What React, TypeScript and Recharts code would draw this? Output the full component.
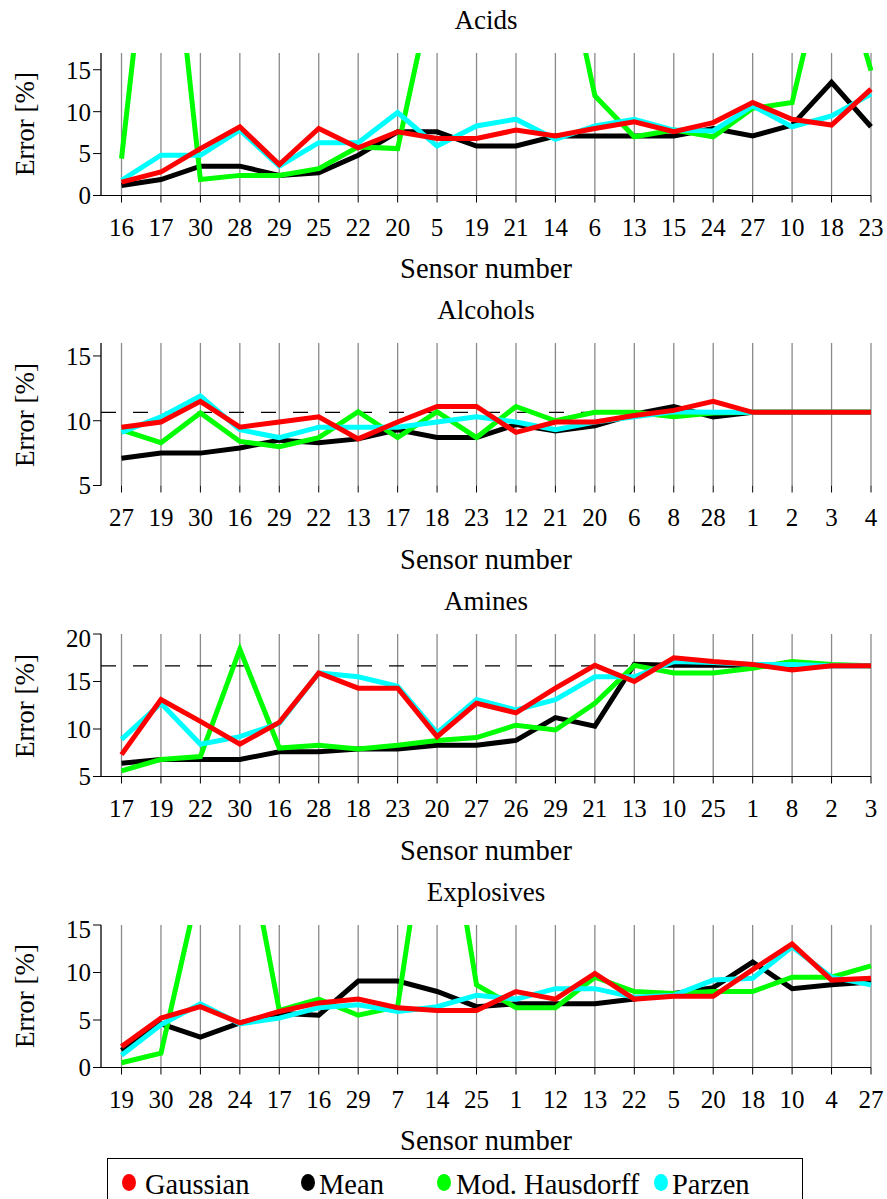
import React from 'react';
import { LineChart, Line, XAxis, YAxis, CartesianGrid, ReferenceLine } from 'recharts';

const FONT = "'Liberation Serif', 'DejaVu Serif', 'Noto Serif', serif";

// ---------- Acids ----------
const acidsSensors = ['16', '17', '30', '28', '29', '25', '22', '20', '5', '19', '21', '14', '6', '13', '15', '24', '27', '10', '18', '23'];
const acidsGaussian = [1.6, 2.8, 5.6, 8.2, 3.7, 8.0, 5.7, 7.6, 6.8, 6.8, 7.8, 7.1, 8.0, 8.8, 7.6, 8.7, 11.1, 9.1, 8.4, 12.7];
const acidsMean = [1.2, 1.9, 3.5, 3.5, 2.4, 2.7, 4.8, 7.6, 7.6, 5.9, 5.9, 7.1, 7.1, 7.1, 7.1, 8.0, 7.1, 8.4, 13.5, 8.2];
const acidsHausdorff = [4.4, 45.8, 1.9, 2.4, 2.4, 3.2, 5.8, 5.6, 27.3, 30, 32, 33.9, 11.9, 7.0, 7.8, 7.0, 10.4, 11.1, 31, 14.9];
const acidsParzen = [1.8, 4.8, 4.8, 7.8, 3.5, 6.3, 6.3, 9.9, 5.9, 8.3, 9.1, 6.7, 8.3, 9.1, 7.8, 7.7, 10.7, 8.2, 9.5, 12.1];

// ---------- Alcohols ----------
const alcoholsSensors = ['27', '19', '30', '16', '29', '22', '13', '17', '18', '23', '12', '21', '20', '6', '8', '28', '1', '2', '3', '4'];
const alcoholsGaussian = [9.5, 9.9, 11.5, 9.5, 9.9, 10.3, 8.6, 9.9, 11.1, 11.1, 9.1, 9.9, 9.9, 10.4, 10.8, 11.5, 10.65, 10.65, 10.65, 10.65];
const alcoholsMean = [7.1, 7.5, 7.5, 7.9, 8.5, 8.3, 8.6, 9.3, 8.7, 8.7, 9.7, 9.2, 9.6, 10.5, 11.1, 10.3, 10.65, 10.65, 10.65, 10.65];
const alcoholsHausdorff = [9.3, 8.3, 10.6, 8.4, 8.0, 8.7, 10.7, 8.7, 10.7, 8.7, 11.1, 10.0, 10.65, 10.65, 10.3, 10.6, 10.65, 10.65, 10.65, 10.65];
const alcoholsParzen = [9.1, 10.3, 11.9, 9.3, 8.7, 9.5, 9.5, 9.5, 9.9, 10.3, 9.9, 9.3, 9.9, 10.3, 10.7, 10.65, 10.65, 10.65, 10.65, 10.65];
const alcoholsBaseline = 10.65;

// ---------- Amines ----------
const aminesSensors = ['17', '19', '22', '30', '16', '28', '18', '23', '20', '27', '26', '29', '21', '13', '10', '25', '1', '8', '2', '3'];
const aminesGaussian = [7.3, 13.1, 10.8, 8.4, 10.7, 15.9, 14.3, 14.3, 9.2, 12.7, 11.7, 14.3, 16.7, 15.0, 17.5, 17.1, 16.8, 16.2, 16.65, 16.65];
const aminesMean = [6.4, 6.8, 6.8, 6.8, 7.6, 7.6, 7.9, 7.9, 8.3, 8.3, 8.8, 11.2, 10.3, 16.8, 16.7, 16.7, 16.7, 16.7, 16.65, 16.65];
const aminesHausdorff = [5.6, 6.8, 7.1, 18.4, 8.0, 8.3, 7.9, 8.3, 8.8, 9.1, 10.4, 9.9, 12.7, 16.7, 15.9, 15.9, 16.4, 17.1, 16.8, 16.65];
const aminesParzen = [8.9, 12.7, 8.4, 9.2, 10.6, 15.9, 15.5, 14.5, 9.6, 13.1, 12.0, 13.1, 15.5, 15.5, 17.1, 17.0, 16.8, 16.8, 16.65, 16.65];
const aminesBaseline = 16.65;

// ---------- Explosives ----------
const explosivesSensors = ['19', '30', '28', '24', '17', '16', '29', '7', '14', '25', '1', '12', '13', '22', '5', '20', '18', '10', '4', '27'];
const explosivesGaussian = [2.2, 5.2, 6.4, 4.7, 5.9, 6.8, 7.2, 6.3, 6.0, 6.0, 8.0, 7.2, 9.9, 7.2, 7.5, 7.5, 10.3, 13.0, 9.2, 9.4];
const explosivesMean = [1.8, 4.6, 3.2, 4.7, 5.7, 5.5, 9.1, 9.1, 8.0, 6.4, 6.7, 6.7, 6.7, 7.2, 7.8, 8.4, 11.1, 8.3, 8.7, 9.0];
const explosivesHausdorff = [0.5, 1.5, 19.8, 27.8, 6.0, 7.2, 5.5, 6.4, 34, 8.7, 6.3, 6.3, 9.5, 8.0, 7.8, 8.0, 8.0, 9.5, 9.5, 10.7];
const explosivesParzen = [1.3, 4.5, 6.7, 4.6, 5.2, 6.3, 6.6, 5.9, 6.4, 7.6, 7.2, 8.3, 8.3, 7.4, 7.6, 9.2, 9.4, 12.7, 9.5, 8.7];

const seriesNames = ['Gaussian', 'Mean', 'Mod. Hausdorff', 'Parzen'];
const seriesColors = ['#ff0000', '#000000', '#00ff00', '#00ffff'];

function buildRows(s: string[], g: number[], m: number[], h: number[], p: number[]) {
  return s.map((sensor, i) => ({ sensor, gaussian: g[i], mean: m[i], hausdorff: h[i], parzen: p[i] }));
}

type PanelProps = {
  title: string;
  rows: any[];
  plotTop: number;
  plotH: number;
  domain: [number, number];
  ticks: number[];
  baseline?: number;
  showXLine?: boolean;
};

const PLOT_LEFT = 101;
const PLOT_RIGHT = 871;
const CENTER_X = (PLOT_LEFT + PLOT_RIGHT) / 2;

function Panel({ title, rows, plotTop, plotH, domain, ticks, baseline, showXLine = true }: PanelProps) {
  const mTop = 10;
  const xAxisH = 70;
  const plotBottom = plotTop + plotH;
  const textStyle: React.CSSProperties = {
    position: 'absolute',
    fontFamily: FONT,
    fontSize: 27,
    lineHeight: 1,
    whiteSpace: 'nowrap',
    color: '#000',
  };
  return (
    <>
      <div style={{ ...textStyle, left: CENTER_X, top: plotTop - 33, transform: 'translate(-50%, -50%)' }}>{title}</div>
      <div style={{ ...textStyle, fontSize: 28.5, left: CENTER_X, top: plotBottom + 74, transform: 'translate(-50%, -50%)' }}>Sensor number</div>
      <div
        style={{
          ...textStyle,
          left: 25,
          top: plotTop + plotH / 2,
          transform: 'translate(-50%, -50%) rotate(-90deg)',
        }}
      >
        Error [%]
      </div>
      <div style={{ position: 'absolute', left: 0, top: plotTop - mTop }}>
        <LineChart
          width={887}
          height={mTop + plotH + xAxisH}
          data={rows}
          margin={{ top: mTop, right: 887 - PLOT_RIGHT, bottom: 0, left: PLOT_LEFT - 60 }}
        >
          <CartesianGrid horizontal={false} vertical={true} stroke="#8a8a8a" strokeWidth={1.3} />
          <XAxis
            dataKey="sensor"
            type="category"
            interval={0}
            padding={{ left: 20.5, right: 0 }}
            height={xAxisH}
            tickSize={7}
            tickMargin={16}
            axisLine={showXLine ? { stroke: '#000', strokeWidth: 1 } : false}
            tickLine={{ stroke: '#000', strokeWidth: 1 }}
            tick={{ fill: '#000', fontSize: 25, fontFamily: FONT }}
          />
          <YAxis
            type="number"
            domain={domain}
            ticks={ticks}
            allowDataOverflow={true}
            width={60}
            tickSize={8}
            tickMargin={2}
            axisLine={{ stroke: '#000', strokeWidth: 1 }}
            tickLine={{ stroke: '#000', strokeWidth: 1 }}
            tick={{ fill: '#000', fontSize: 25, fontFamily: FONT }}
          />
          {baseline !== undefined && (
            <ReferenceLine y={baseline} stroke="#000" strokeWidth={1.2} strokeDasharray="15 17" />
          )}
          <Line dataKey="mean" stroke={seriesColors[1]} strokeWidth={5} dot={false} activeDot={false} isAnimationActive={false} />
          <Line dataKey="hausdorff" stroke={seriesColors[2]} strokeWidth={5} dot={false} activeDot={false} isAnimationActive={false} />
          <Line dataKey="parzen" stroke={seriesColors[3]} strokeWidth={5} dot={false} activeDot={false} isAnimationActive={false} />
          <Line dataKey="gaussian" stroke={seriesColors[0]} strokeWidth={5} dot={false} activeDot={false} isAnimationActive={false} />
        </LineChart>
      </div>
    </>
  );
}

function LegendBox() {
  const dotX = [128, 307, 443, 660];
  const textX = [144, 318, 455, 671];
  return (
    <div
      style={{
        position: 'absolute',
        left: 107,
        top: 1158,
        width: 696,
        height: 50,
        border: '1.5px solid #000',
        boxSizing: 'border-box',
      }}
    >
      {seriesNames.map((name, i) => (
        <React.Fragment key={name}>
          <div
            style={{
              position: 'absolute',
              left: dotX[i] - 107 - 7,
              top: 1181 - 1158 - 8.5,
              width: 14,
              height: 17,
              borderRadius: '50%',
              background: seriesColors[i],
            }}
          />
          <div
            style={{
              position: 'absolute',
              left: textX[i] - 107,
              top: 1184 - 1158,
              transform: 'translateY(-50%)',
              fontFamily: FONT,
              fontSize: 28.5,
              lineHeight: 1,
              whiteSpace: 'nowrap',
              color: '#000',
            }}
          >
            {name}
          </div>
        </React.Fragment>
      ))}
    </div>
  );
}

export default function App() {
  return (
    <div
      style={{
        position: 'absolute',
        left: 0,
        top: 0,
        width: 887,
        height: 1199,
        overflow: 'hidden',
        background: '#fff',
      }}
    >
      <Panel
        title="Acids"
        rows={buildRows(acidsSensors, acidsGaussian, acidsMean, acidsHausdorff, acidsParzen)}
        plotTop={52.7}
        plotH={142.5}
        domain={[0, 17]}
        ticks={[0, 5, 10, 15]}
      />
      <Panel
        title="Alcohols"
        rows={buildRows(alcoholsSensors, alcoholsGaussian, alcoholsMean, alcoholsHausdorff, alcoholsParzen)}
        plotTop={343.3}
        plotH={142.5}
        domain={[5, 16]}
        ticks={[5, 10, 15]}
        baseline={alcoholsBaseline}
        showXLine={false}
      />
      <Panel
        title="Amines"
        rows={buildRows(aminesSensors, aminesGaussian, aminesMean, aminesHausdorff, aminesParzen)}
        plotTop={634.3}
        plotH={142.5}
        domain={[5, 20]}
        ticks={[5, 10, 15, 20]}
        baseline={aminesBaseline}
      />
      <Panel
        title="Explosives"
        rows={buildRows(explosivesSensors, explosivesGaussian, explosivesMean, explosivesHausdorff, explosivesParzen)}
        plotTop={924.7}
        plotH={142.5}
        domain={[0, 15]}
        ticks={[0, 5, 10, 15]}
      />
      <LegendBox />
    </div>
  );
}
